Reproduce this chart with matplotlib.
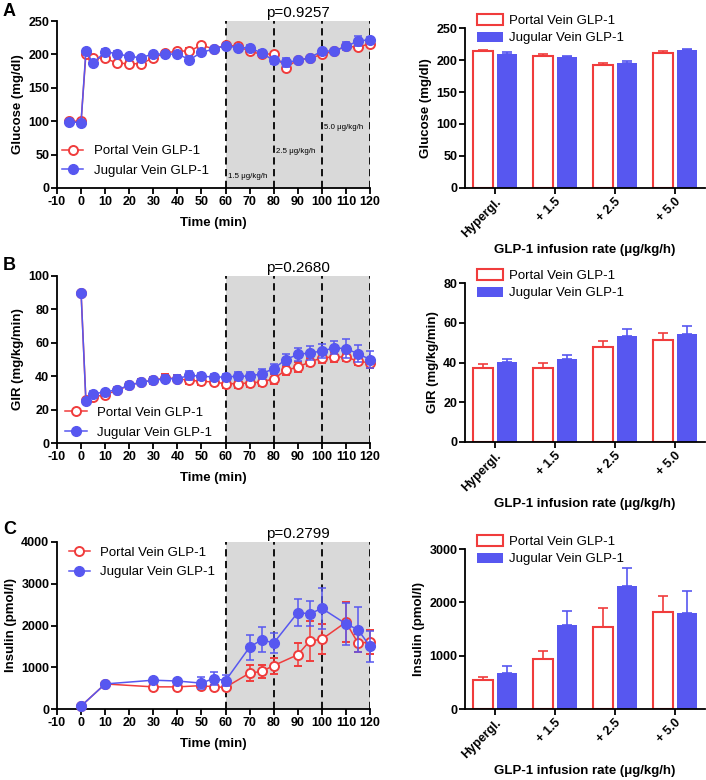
import numpy as np
import matplotlib.pyplot as plt
from matplotlib.lines import Line2D

plt.rcParams['font.family'] = ['Liberation Sans', 'DejaVu Sans']
plt.rcParams['axes.unicode_minus'] = False

# ---------------- data ----------------
red = '#F03C3C'
blue = '#5757F0'
shade = '#d9d9d9'

# Panel A: glucose over time
t_glu = [-5, 0, 2, 5, 10, 15, 20, 25, 30, 35, 40, 45, 50, 55, 60, 65, 70, 75, 80, 85, 90, 95, 100, 105, 110, 115, 120]
glu_portal = [100, 100, 200, 195, 194, 187, 186, 186, 195, 202, 205, 205, 214, 208, 214, 212, 205, 200, 201, 180, 192, 194, 200, 205, 212, 211, 216]
glu_portal_err = [2, 2, 3, 3, 3, 2, 4, 4, 3, 3, 3, 4, 2, 2, 3, 3, 5, 4, 2, 4, 3, 4, 3, 2, 3, 4, 3]
glu_jugular = [99, 98, 205, 187, 204, 201, 197, 195, 201, 200, 201, 192, 203, 208, 213, 210, 210, 202, 191, 188, 191, 195, 205, 205, 212, 220, 222]
glu_jugular_err = [2, 2, 3, 3, 4, 4, 4, 3, 2, 3, 3, 5, 3, 2, 3, 3, 4, 4, 5, 7, 4, 3, 3, 2, 6, 7, 4]

# Panel B: glucose infusion rate over time
t_gir = [0, 2, 5, 10, 15, 20, 25, 30, 35, 40, 45, 50, 55, 60, 65, 70, 75, 80, 85, 90, 95, 100, 105, 110, 115, 120]
gir_portal = [90, 25.5, 27.5, 29, 31.5, 34.5, 36.5, 37.5, 39, 38.5, 37.5, 37, 36.5, 35.5, 35.5, 36, 36.5, 38.5, 43.5, 45.5, 48.5, 51, 51.5, 51.5, 49, 48]
gir_portal_err = [0, 1, 1.5, 1.5, 1.5, 1.5, 2, 2, 2.5, 2, 2, 2, 2, 2.5, 2.5, 2.5, 2.5, 3, 2.5, 3, 2.5, 3, 3, 2.5, 2.5, 3]
gir_jugular = [90, 25, 29.5, 30.5, 32, 34.5, 36.5, 37.5, 38.5, 38.5, 40.5, 40, 39.5, 39.5, 40, 40, 41.5, 44.5, 50, 53, 54, 55, 57, 56.5, 53.5, 50]
gir_jugular_err = [0, 1, 1.5, 1.5, 1.5, 2, 2, 2, 2, 2, 2.5, 2, 2, 2, 2.5, 2.5, 3, 3, 3.5, 4, 4, 4, 4, 5.5, 5, 5]

# Panel C: insulin over time
t_ins = [0, 10, 30, 40, 50, 55, 60, 70, 75, 80, 90, 95, 100, 110, 115, 120]
ins_portal = [70, 600, 530, 530, 560, 530, 520, 860, 900, 1040, 1300, 1630, 1670, 2080, 1580, 1600]
ins_portal_err = [0, 30, 40, 80, 60, 50, 40, 190, 150, 190, 270, 480, 360, 480, 220, 290]
ins_jugular = [70, 600, 690, 670, 620, 730, 680, 1480, 1660, 1580, 2310, 2280, 2410, 2040, 1900, 1500]
ins_jugular_err = [20, 40, 50, 50, 150, 160, 130, 300, 300, 240, 320, 300, 500, 500, 540, 380]

# right-hand bar charts
phases = ['Hypergl.', '+ 1.5', '+ 2.5', '+ 5.0']
bar_glu_portal = [213.5, 205.7, 192.7, 211]
bar_glu_portal_err = [2, 3, 3, 3]
bar_glu_jugular = [209, 204, 196, 215]
bar_glu_jugular_err = [3, 2, 2, 1.5]

bar_gir_portal = [37, 37, 47.7, 51.5]
bar_gir_portal_err = [2, 3, 3.2, 3.2]
bar_gir_jugular = [40.2, 41.8, 53.4, 54.2]
bar_gir_jugular_err = [1.8, 2.2, 3.3, 4.4]

bar_ins_portal = [545, 933, 1534, 1822]
bar_ins_portal_err = [62, 163, 357, 295]
bar_ins_jugular = [676, 1572, 2311, 1791]
bar_ins_jugular_err = [132, 263, 332, 426]

p_values = ['p=0.9257', 'p=0.2680', 'p=0.2799']

# ---------------- figure ----------------
fig = plt.figure(figsize=(7.06, 7.8), dpi=100)

W, H = 706.0, 780.0


def px_axes(x0, y_top, x1, y_bot):
    return fig.add_axes([x0 / W, 1 - y_bot / H, (x1 - x0) / W, (y_bot - y_top) / H])


def style_axes(ax):
    for s in ['top', 'right']:
        ax.spines[s].set_visible(False)
    for s in ['left', 'bottom']:
        ax.spines[s].set_linewidth(1.3)
    ax.tick_params(direction='out', width=1.3, length=4, labelsize=9, pad=1.5)
    for lab in ax.get_xticklabels() + ax.get_yticklabels():
        lab.set_fontweight('bold')


# legend handles for the time courses (line + marker, no error bar)
line_handles = [
    Line2D([], [], color=red, lw=1.1, marker='o', ms=6.5, mfc='white', mec=red, mew=1.4),
    Line2D([], [], color=blue, lw=1.1, marker='o', ms=7, mfc=blue, mec=blue),
]
line_labels = ['Portal Vein GLP-1', 'Jugular Vein GLP-1']


def time_panel(ax, t1, y1, e1, t2, y2, e2, ymax, ystep, ylabel, ptext):
    ax.axvspan(60, 120, color=shade, zorder=0, lw=0)
    for xv in [60, 80, 100, 120]:
        ax.axvline(xv, color='black', ls=(0, (4, 2.5)), lw=1.3, zorder=1)
    ax.errorbar(t1, y1, yerr=e1, color=red, lw=1.1, marker='o', ms=6.5,
                mfc='white', mec=red, mew=1.4, capsize=3, elinewidth=1.1,
                capthick=1.1, zorder=3, clip_on=False)
    ax.errorbar(t2, y2, yerr=e2, color=blue, lw=1.1, marker='o', ms=7,
                mfc=blue, mec=blue, capsize=3, elinewidth=1.1, capthick=1.1,
                zorder=4, clip_on=False)
    ax.set_xlim(-10, 120)
    ax.set_ylim(0, ymax)
    ax.set_xticks(np.arange(-10, 121, 10))
    ax.set_yticks(np.arange(0, ymax + 1, ystep))
    ax.set_xlabel('Time (min)', fontsize=9.5, fontweight='bold', labelpad=7)
    ax.set_ylabel(ylabel, fontsize=9.5, fontweight='bold', labelpad=3)
    ax.text(90, ymax * 1.005, ptext, ha='center', va='bottom', fontsize=11)
    style_axes(ax)


def time_legend(ax, loc, anchor):
    ax.legend(line_handles, line_labels, loc=loc, bbox_to_anchor=anchor,
              frameon=False, fontsize=9.5, handlelength=1.6, handletextpad=0.8,
              labelspacing=0.55, borderaxespad=0)


def bar_panel(ax, yp, ep, yj, ej, ymax, ystep, ylabel):
    x = np.arange(len(phases))
    w = 0.34
    ax.bar(x - 0.2, yp, w, facecolor='white', edgecolor=red, lw=1.5,
           label='Portal Vein GLP-1', zorder=2)
    ax.errorbar(x - 0.2, yp, yerr=[np.zeros(len(ep)), ep], fmt='none',
                ecolor=red, elinewidth=1.2, capsize=3.5, capthick=1.2, zorder=1)
    ax.bar(x + 0.2, yj, w, color=blue, lw=0, label='Jugular Vein GLP-1', zorder=2)
    ax.errorbar(x + 0.2, yj, yerr=[np.zeros(len(ej)), ej], fmt='none',
                ecolor=blue, elinewidth=1.2, capsize=3.5, capthick=1.2, zorder=1)
    ax.set_xlim(-0.5, 3.5)
    ax.set_ylim(0, ymax)
    ax.set_xticks(x)
    ax.set_xticklabels(phases, rotation=45, ha='right', rotation_mode='anchor')
    ax.set_yticks(np.arange(0, ymax + 1, ystep))
    ax.set_xlabel('GLP-1 infusion rate (μg/kg/h)', fontsize=9.5, fontweight='bold', labelpad=3)
    ax.set_ylabel(ylabel, fontsize=9.5, fontweight='bold', labelpad=3)
    style_axes(ax)
    ax.legend(loc='upper left', bbox_to_anchor=(0.03, 1.12), frameon=False,
              fontsize=9.5, handlelength=1.9, handleheight=0.85, handletextpad=0.5,
              labelspacing=0.35, borderaxespad=0)


# ---- A ----
axA = px_axes(57, 21, 370, 188)
time_panel(axA, t_glu, glu_portal, glu_portal_err, t_glu, glu_jugular, glu_jugular_err,
           250, 50, 'Glucose (mg/dl)', p_values[0])
time_legend(axA, 'lower left', (0.0, 0.035))
axA.text(61, 17, '1.5 μg/kg/h', fontsize=5.7, va='center')
axA.text(81, 54, '2.5 μg/kg/h', fontsize=5.7, va='center')
axA.text(101, 91, '5.0 μg/kg/h', fontsize=5.7, va='center')

axA2 = px_axes(465, 28, 705, 188)
bar_panel(axA2, bar_glu_portal, bar_glu_portal_err, bar_glu_jugular, bar_glu_jugular_err,
          250, 50, 'Glucose (mg/dl)')

# ---- B ----
axB = px_axes(57, 276, 370, 443)
time_panel(axB, t_gir, gir_portal, gir_portal_err, t_gir, gir_jugular, gir_jugular_err,
           100, 20, 'GIR (mg/kg/min)', p_values[1])
time_legend(axB, 'lower left', (0.01, -0.005))

axB2 = px_axes(465, 283, 705, 442)
bar_panel(axB2, bar_gir_portal, bar_gir_portal_err, bar_gir_jugular, bar_gir_jugular_err,
          80, 20, 'GIR (mg/kg/min)')

# ---- C ----
axC = px_axes(57, 542, 370, 709)
time_legend(axC, 'upper left', (0.02, 1.005))
time_panel(axC, t_ins, ins_portal, ins_portal_err, t_ins, ins_jugular, ins_jugular_err,
           4000, 1000, 'Insulin (pmol/l)', p_values[2])

axC2 = px_axes(465, 549, 705, 709)
bar_panel(axC2, bar_ins_portal, bar_ins_portal_err, bar_ins_jugular, bar_ins_jugular_err,
          3000, 1000, 'Insulin (pmol/l)')

# panel letters
for letter, ypx in [('A', 12), ('B', 266), ('C', 529)]:
    fig.text(3 / W, 1 - ypx / H, letter, fontsize=13, fontweight='bold', va='center')

fig.savefig('out.png', dpi=100)
